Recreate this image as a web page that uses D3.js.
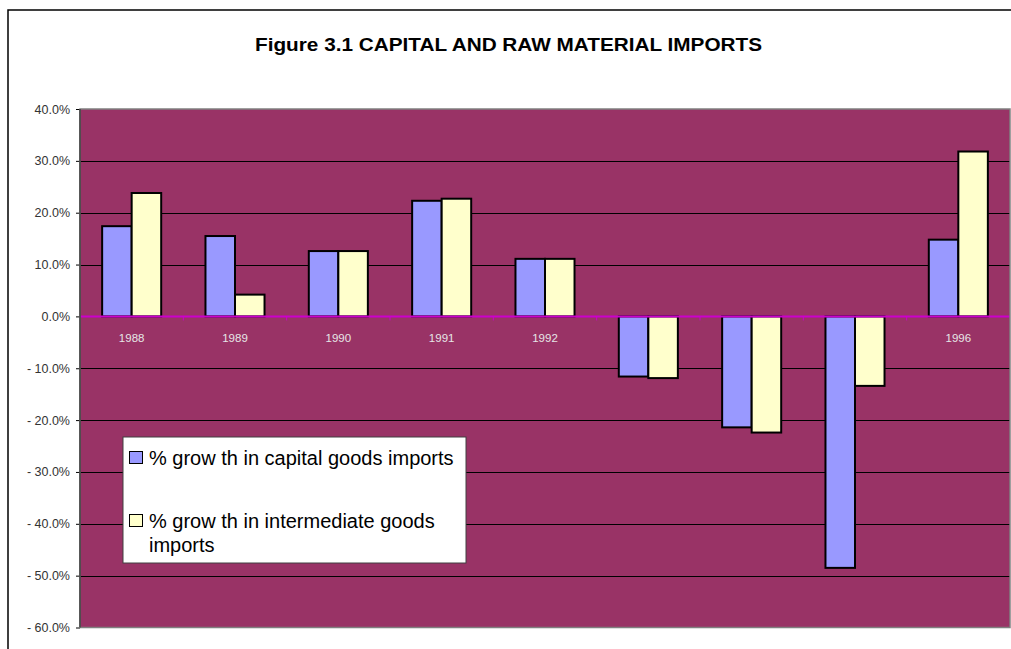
<!DOCTYPE html>
<html>
<head>
<meta charset="utf-8">
<script src="https://cdn.jsdelivr.net/npm/d3@7"></script>
<style>
  body { margin: 0; background: #fff; }
  svg { display: block; font-family: "Liberation Sans", Arial, sans-serif; }
</style>
</head>
<body>
<div class="wrapper"></div>
<script>
const width = 1011;
const height = 649;

// values
const years = ["1988", "1989", "1990", "1991", "1992", "1993", "1994", "1995", "1996"];
const capitalGrowth = [0.174, 0.155, 0.126, 0.223, 0.111, -0.116, -0.214, -0.485, 0.148];
const intermediateGrowth = [0.238, 0.042, 0.126, 0.227, 0.111, -0.119, -0.224, -0.134, 0.318];
const yTicks = [0.4, 0.3, 0.2, 0.1, 0, -0.1, -0.2, -0.3, -0.4, -0.5, -0.6];
const seriesColors = ["#9999ff", "#ffffcc"];

const plot = { left: 80, right: 1010, top: 109, bottom: 627.5 };

const svg = d3
  .select(".wrapper")
  .append("svg")
  .attr("width", width)
  .attr("height", height);

// outer chart frame (only top and left edges visible)
svg.append("path")
  .attr("d", `M8,${height} V10 H${width}`)
  .attr("fill", "none")
  .attr("stroke", "#000")
  .attr("stroke-width", 1.5);

svg.append("text")
  .attr("x", 255)
  .attr("y", 51)
  .attr("font-size", 18)
  .attr("font-weight", "bold")
  .attr("textLength", 507)
  .attr("lengthAdjust", "spacingAndGlyphs")
  .text("Figure 3.1 CAPITAL AND RAW MATERIAL IMPORTS");

const x = d3.scaleBand().domain(years).range([plot.left, plot.right]);
const xSeries = d3.scaleBand()
  .domain([0, 1])
  .range([0, x.bandwidth()])
  .paddingInner(0)
  .paddingOuter(0.75);
const y = d3.scaleLinear().domain([-0.6, 0.4]).range([plot.bottom, plot.top]);

const fmt = d3.formatLocale({
  decimal: ".", thousands: ",", grouping: [3], currency: ["", ""], minus: "- ", percent: "%"
}).format(".1%");

// plot background
svg.append("rect")
  .attr("x", plot.left)
  .attr("y", plot.top)
  .attr("width", plot.right - plot.left)
  .attr("height", plot.bottom - plot.top)
  .attr("fill", "#993366");

// gridlines
svg.append("g")
  .selectAll("line")
  .data(yTicks.filter((d) => d !== 0 && d !== 0.4 && d !== -0.6))
  .join("line")
  .attr("x1", plot.left)
  .attr("x2", plot.right)
  .attr("y1", (d) => Math.round(y(d)) + 0.5)
  .attr("y2", (d) => Math.round(y(d)) + 0.5)
  .attr("stroke", "#000")
  .attr("stroke-width", 1);

// y axis
const yAxis = svg.append("g")
  .attr("transform", `translate(${plot.left},0)`)
  .call(d3.axisLeft(y).tickValues(yTicks).tickFormat(fmt).tickSize(4).tickPadding(6));
yAxis.select(".domain").remove();
yAxis.selectAll(".tick line").attr("stroke", "#000");
yAxis.selectAll(".tick text")
  .attr("font-size", 12.5)
  .attr("fill", "#333")
  .attr("font-family", "\"Liberation Sans\", Arial, sans-serif");

// category labels sit under the bars
svg.append("g")
  .selectAll("text")
  .data(years)
  .join("text")
  .attr("x", (d) => x(d) + x.bandwidth() / 2)
  .attr("y", y(0) + 26)
  .attr("text-anchor", "middle")
  .attr("font-size", 11.5)
  .attr("fill", "#e6e6e6")
  .text((d) => d);

// bars
const series = [capitalGrowth, intermediateGrowth];
series.forEach((values, i) => {
  svg.append("g")
    .selectAll("rect")
    .data(values)
    .join("rect")
    .attr("x", (d, j) => x(years[j]) + xSeries(i))
    .attr("y", (d) => y(Math.max(0, d)))
    .attr("width", xSeries.bandwidth())
    .attr("height", (d) => Math.abs(y(d) - y(0)))
    .attr("fill", seriesColors[i])
    .attr("stroke", "#000")
    .attr("stroke-width", 2);
});

// zero line and category ticks
svg.append("line")
  .attr("x1", plot.left)
  .attr("x2", plot.right)
  .attr("y1", y(0))
  .attr("y2", y(0))
  .attr("stroke", "#cc00cc")
  .attr("stroke-width", 2);

svg.append("g")
  .selectAll("line")
  .data(years.slice(1))
  .join("line")
  .attr("x1", (d) => x(d))
  .attr("x2", (d) => x(d))
  .attr("y1", y(0))
  .attr("y2", y(0) + 4)
  .attr("stroke", "#cc00cc")
  .attr("stroke-width", 1);

// plot border
svg.append("rect")
  .attr("x", plot.left)
  .attr("y", plot.top)
  .attr("width", plot.right - plot.left)
  .attr("height", plot.bottom - plot.top)
  .attr("fill", "none")
  .attr("stroke", "#808080")
  .attr("stroke-width", 1.5);
svg.append("line")
  .attr("x1", plot.left)
  .attr("x2", plot.left)
  .attr("y1", plot.top)
  .attr("y2", plot.bottom)
  .attr("stroke", "#404040")
  .attr("stroke-width", 1.5);

// legend
const legend = svg.append("g").attr("transform", "translate(123,437)");
legend.append("rect")
  .attr("width", 343)
  .attr("height", 126)
  .attr("fill", "#fff")
  .attr("stroke", "#404040")
  .attr("stroke-width", 1);

const legendRows = [
  { lines: ["% grow th in capital goods imports"], y: 28 },
  { lines: ["% grow th in intermediate goods", "imports"], y: 91 }
];
legendRows.forEach((row, i) => {
  legend.append("rect")
    .attr("x", 6.5)
    .attr("y", row.y - 13.5)
    .attr("width", 13)
    .attr("height", 12)
    .attr("fill", seriesColors[i])
    .attr("stroke", "#000")
    .attr("stroke-width", 1);
  const t = legend.append("text")
    .attr("x", 26)
    .attr("y", row.y)
    .attr("font-size", 20)
    .attr("fill", "#000");
  row.lines.forEach((line, k) => {
    t.append("tspan")
      .attr("x", 26)
      .attr("dy", k === 0 ? 0 : 24)
      .text(line);
  });
});
</script>
</body>
</html>
